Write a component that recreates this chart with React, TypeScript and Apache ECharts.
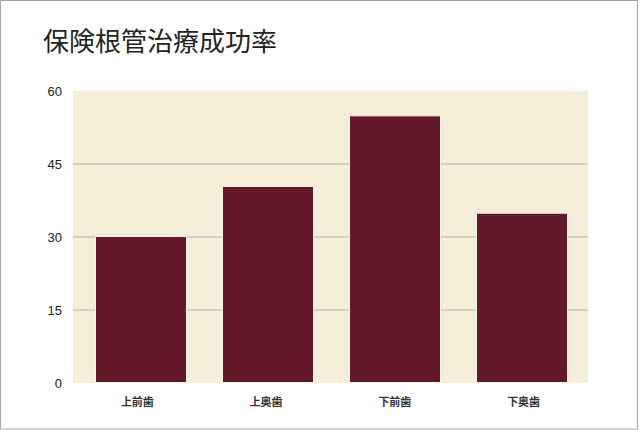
import React, { useEffect, useRef } from "react";
import * as echarts from "echarts";

const titleText = "保険根管治療成功率";
const categories = ["上前歯", "上奥歯", "下前歯", "下奥歯"];
const successRates = [30.2, 40.5, 55, 35];
const yMin = 0;
const yMax = 60;
const yInterval = 15;

export default function App() {
  const ref = useRef<HTMLDivElement>(null);

  useEffect(() => {
    if (!ref.current) return;
    const chart = echarts.init(ref.current, null, { renderer: "svg" });
    chart.setOption({
      animation: false,
      backgroundColor: "#ffffff",
      title: {
        text: titleText,
        left: 38,
        top: 21,
        textStyle: {
          fontFamily: "Noto Sans CJK JP",
          fontSize: 26,
          fontWeight: "normal",
          color: "#222222",
        },
      },
      graphic: [
        {
          type: "rect",
          shape: { x: 0.5, y: 0.5, width: 637, height: 428.5 },
          style: { fill: "none", stroke: "#a3a3a3", lineWidth: 1 },
          silent: true,
        },
      ],
      grid: [
        {
          left: 73,
          right: 52,
          top: 91,
          bottom: 47,
          show: true,
          backgroundColor: "#f5efda",
          borderWidth: 0,
        },
        {
          left: 77.5,
          right: 54.5,
          top: 91,
          bottom: 47,
          show: false,
        },
      ],
      xAxis: [
        {
          type: "category",
          gridIndex: 0,
          data: categories,
          axisLine: { show: false },
          axisTick: { show: false },
          axisLabel: {
            margin: 12,
            fontFamily: "Noto Sans CJK JP",
            fontSize: 11,
            fontWeight: "bold",
            color: "#333333",
          },
        },
        {
          type: "category",
          gridIndex: 1,
          data: categories,
          show: false,
        },
      ],
      yAxis: [
        {
          type: "value",
          gridIndex: 0,
          min: yMin,
          max: yMax,
          interval: yInterval,
          axisLine: { show: false },
          axisTick: { show: false },
          axisLabel: {
            margin: 11,
            fontFamily: "Helvetica, Arial, Liberation Sans, sans-serif",
            fontSize: 13,
            color: "#222222",
          },
          splitLine: {
            show: true,
            showMinLine: false,
            showMaxLine: false,
            lineStyle: { color: "#cbc6b6", width: 1.5 },
          },
        },
        {
          type: "value",
          gridIndex: 1,
          min: yMin,
          max: yMax,
          interval: yInterval,
          show: false,
          splitLine: { show: false },
        },
      ],
      series: [
        {
          type: "bar",
          xAxisIndex: 1,
          yAxisIndex: 1,
          data: successRates,
          barWidth: 92,
          itemStyle: {
            color: "#63192a",
            borderColor: "#fcf7e8",
            borderWidth: 1,
          },
        },
      ],
    });
    return () => chart.dispose();
  }, []);

  return (
    <div
      ref={ref}
      style={{ position: "fixed", left: 0, top: 0, width: 640, height: 430 }}
    />
  );
}
